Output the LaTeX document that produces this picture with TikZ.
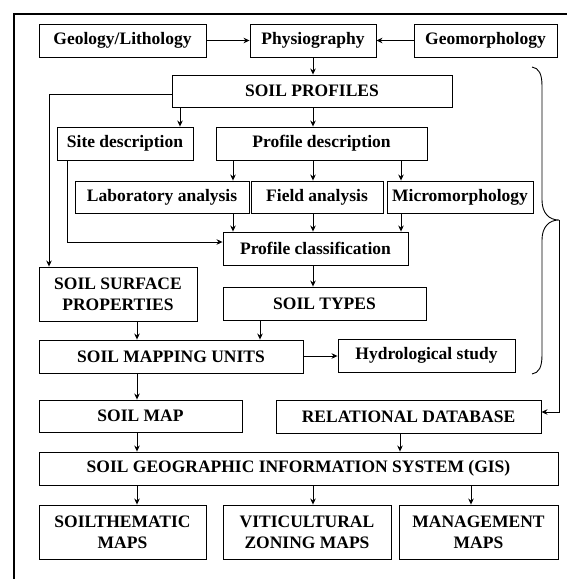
\documentclass[tikz,border=0pt]{standalone}
\usepackage{fontspec}
\setmainfont{Liberation Serif}
\usetikzlibrary{arrows.meta}
\begin{document}
\begin{tikzpicture}[x=1pt,y=-1pt,
  box/.style={draw,line width=0.9pt,inner sep=0pt,align=center,
    font=\fontsize{17.5}{21}\selectfont\bfseries},
  arr/.style={line width=0.9pt,-{Stealth[length=6pt,width=5.5pt]}},
  ln/.style={line width=0.9pt}]
\useasboundingbox (0,0) rectangle (566,579);
\draw[line width=1.6pt] (14,600) -- (14,14) -- (600,14);
% row 1
\node[box,minimum width=167pt,minimum height=33pt] (geo) at (122.5,40.5) {Geology/Lithology};
\node[box,minimum width=126pt,minimum height=33pt] (phys) at (313,40.5) {Physiography};
\node[box,minimum width=143pt,minimum height=33pt] (geom) at (485.5,40.5) {Geomorphology};
\node[box,minimum width=280pt,minimum height=32pt] (prof) at (312,91) {SOIL PROFILES};
\node[box,minimum width=136pt,minimum height=33pt] (site) at (125,143.5) {Site description};
\node[box,minimum width=211pt,minimum height=33pt] (pdesc) at (321.5,143.5) {Profile description};
\node[box,minimum width=174pt,minimum height=32pt] (lab) at (162,197) {Laboratory analysis};
\node[box,minimum width=132pt,minimum height=32pt] (field) at (317,197) {Field analysis};
\node[box,minimum width=146pt,minimum height=32pt] (micro) at (460,197) {Micromorphology};
\node[box,minimum width=185pt,minimum height=33pt] (pclass) at (315.5,248.5) {Profile classification};
\node[box,minimum width=158pt,minimum height=54pt] (ssp) at (118,294) {SOIL SURFACE\\PROPERTIES};
\node[box,minimum width=203pt,minimum height=33pt] (stypes) at (324.5,303.5) {SOIL TYPES};
\node[box,minimum width=264pt,minimum height=33pt] (smu) at (171,356.5) {SOIL MAPPING UNITS};
\node[box,minimum width=177pt,minimum height=33pt] (hydro) at (426.5,355.5) {Hydrological study};
\node[box,minimum width=203pt,minimum height=32pt] (smap) at (140.5,416) {SOIL MAP};
\node[box,minimum width=265pt,minimum height=33pt] (rdb) at (408.5,416.5) {RELATIONAL DATABASE};
\node[box,minimum width=519pt,minimum height=33pt] (gis) at (298.5,468.5) {SOIL GEOGRAPHIC INFORMATION SYSTEM (GIS)};
\node[box,minimum width=167pt,minimum height=54pt] (m1) at (122.5,532) {SOILTHEMATIC\\MAPS};
\node[box,minimum width=168pt,minimum height=54pt] (m2) at (307,532) {VITICULTURAL\\ZONING MAPS};
\node[box,minimum width=159pt,minimum height=54pt] (m3) at (478.5,532) {MANAGEMENT\\MAPS};
% connectors
\draw[arr] (geo.east) -- (phys.west);
\draw[arr] (geom.west) -- (phys.east);
\draw[arr] (phys.south) -- (phys.south |- prof.north);
\draw[arr] ([yshift=-3pt]prof.west) -| (49,0 |- ssp.north);
\draw[arr] (180,0 |- prof.south) -- (180,0 |- site.north);
\draw[arr] (313,0 |- prof.south) -- (313,0 |- pdesc.north);
\draw[arr] (233,0 |- pdesc.south) -- (233,0 |- lab.north);
\draw[arr] (313,0 |- pdesc.south) -- (313,0 |- field.north);
\draw[arr] (401,0 |- pdesc.south) -- (401,0 |- micro.north);
\draw[arr] (233,0 |- lab.south) -- (233,0 |- pclass.north);
\draw[arr] (313,0 |- field.south) -- (313,0 |- pclass.north);
\draw[arr] (401,0 |- micro.south) -- (401,0 |- pclass.north);
\draw[arr] (67,0 |- site.south) |- (pclass.west |- 0,242);
\draw[arr] (313,0 |- pclass.south) -- (313,0 |- stypes.north);
\draw[arr] (137,0 |- ssp.south) -- (137,0 |- smu.north);
\draw[arr] (260,0 |- stypes.south) -- (260,0 |- smu.north);
\draw[arr] (smu.east |- 0,356) -- (hydro.west |- 0,356);
\draw[arr] (137,0 |- smu.south) -- (137,0 |- smap.north);
\draw[arr] (137,0 |- smap.south) -- (137,0 |- gis.north);
\draw[arr] (400,0 |- rdb.south) -- (400,0 |- gis.north);
\draw[arr] (137,0 |- gis.south) -- (137,0 |- m1.north);
\draw[arr] (313,0 |- gis.south) -- (313,0 |- m2.north);
\draw[arr] (471,0 |- gis.south) -- (471,0 |- m3.north);
% brace
\coordinate (btip) at (559,220);
\draw[ln] (532,67) .. controls (539,68) and (542,74) .. (542,86)
  -- (542,200) .. controls (542,213) and (549,220) .. (btip)
  .. controls (549,220) and (542,227) .. (542,240)
  -- (542,355) .. controls (542,367) and (539,373) .. (532,374);
\draw[arr] (btip) |- (rdb.east |- 0,412);
\end{tikzpicture}
\end{document}
